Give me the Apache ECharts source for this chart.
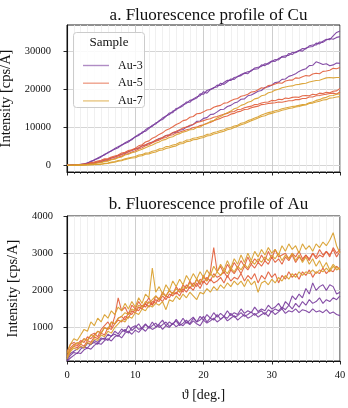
<!DOCTYPE html>
<html><head><meta charset="utf-8">
<script src="https://cdn.jsdelivr.net/npm/echarts@6/dist/echarts.min.js"></script>
<style>html,body{margin:0;padding:0;background:#fff}#c{width:348px;height:408px}</style>
</head><body><div id="c"></div>
<script>
const theta=[0,0.5,1,1.5,2,2.5,3,3.5,4,4.5,5,5.5,6,6.5,7,7.5,8,8.5,9,9.5,10,10.5,11,11.5,12,12.5,13,13.5,14,14.5,15,15.5,16,16.5,17,17.5,18,18.5,19,19.5,20,20.5,21,21.5,22,22.5,23,23.5,24,24.5,25,25.5,26,26.5,27,27.5,28,28.5,29,29.5,30,30.5,31,31.5,32,32.5,33,33.5,34,34.5,35,35.5,36,36.5,37,37.5,38,38.5,39,39.5,40];
const samples=['Au-3','Au-5','Au-7'];
const cuTicks=[0,10000,20000,30000];
const auTicks=[1000,2000,3000,4000];
const xTicks=[0,10,20,30,40];

// a. Cu fluorescence
const cuAu3a=[0,60,110,140,250,330,650,900,1500,1750,2200,2900,3200,3900,4200,4600,5400,5700,6100,6900,7400,7800,8700,8900,9600,10500,10800,11700,12000,12800,13700,13800,14900,15100,15600,16600,16500,17400,17900,18200,19300,18900,19800,20400,20500,21500,21200,21900,22600,22500,23300,23500,24100,24000,24900,25200,25300,26300,26100,26800,27300,27200,28000,28400,28300,29300,29000,29700,30100,29900,30700,31000,31100,32000,31800,32500,33000,32900,33900,34800,35200];
const cuAu3b=[0,30,80,180,200,420,560,1100,1300,1900,2400,2700,3400,3700,4400,4900,5200,5900,6400,6700,7500,8100,8400,9300,9900,10200,11100,11500,12400,12900,13300,14200,14500,15300,15900,16200,17000,17200,17600,18700,18600,19600,19900,20200,21000,20900,21700,22300,22200,23000,23200,23800,24200,24500,24700,25500,25700,25900,26600,26500,27200,27700,27600,28500,28700,28800,29600,29500,30000,30600,30500,31300,31500,31500,32300,32200,32800,33200,33000,33500,33700];
const cuAu3c=[0,20,50,90,150,200,310,450,600,850,1000,1350,1500,1900,2200,2500,2900,3100,3600,3900,4300,4500,5100,5300,5800,6100,6500,7000,7200,7800,7900,8500,8700,9200,9400,10000,10300,10700,11500,11600,12300,12500,13300,13400,14000,14600,14700,15400,15700,16300,16600,17300,17400,18200,18400,18900,19400,19600,20400,20600,21000,21700,21800,22500,22600,23300,23600,24000,24600,25000,25300,26100,26200,27100,26800,26400,26600,26100,26300,26800,26700];
const cuAu5a=[0,40,90,160,230,330,420,700,850,1150,1350,1700,1800,2200,2450,2700,3200,3400,3900,4100,4500,5100,5400,6100,6400,7100,7500,8100,8500,9200,9600,10100,10700,11100,11700,11900,12600,12800,13500,13600,14000,14500,14600,15200,15500,15700,16300,16400,16900,17300,17500,18100,18300,18600,19200,19300,19800,20300,20200,20900,21000,21300,21600,21500,22100,22300,22300,22900,22800,23200,23500,23400,23900,24100,24000,24600,24700,24900,25400,25300,25600];
const cuAu5b=[0,30,70,130,180,260,320,550,700,950,1100,1500,1600,2000,2200,2600,2800,3300,3500,4000,4300,4600,5100,5400,5800,6000,6600,6900,7300,7800,8000,8600,8900,9300,9800,10000,10500,10700,11200,11400,11700,12000,12200,12600,12800,13100,13400,13600,14000,14100,14600,14700,15100,15300,15500,15900,16000,16300,16500,16600,17000,16900,17300,17200,17600,17500,17800,17900,17800,18200,18300,18200,18600,18500,18900,18800,19100,19000,19400,19500,20100];
const cuAu5c=[0,20,50,80,120,150,220,380,480,700,820,1150,1300,1600,1800,2200,2400,2900,3100,3500,3800,4300,4600,5100,5400,5900,6300,6600,7100,7300,7800,8000,8500,8700,9000,9300,9500,9900,10000,10400,10600,11000,11200,11700,12000,12300,12700,12900,13400,13600,14000,14200,14600,14700,15100,15300,15500,15900,16000,16200,16300,16400,16600,16500,16700,16900,16900,17200,17200,17500,17500,17900,17900,18200,18300,18500,18600,18800,18900,18700,19200];
const cuAu7a=[0,20,40,80,110,160,200,330,420,600,700,1000,1100,1450,1600,2000,2200,2700,2900,3300,3500,3900,4200,4600,5000,5300,5800,6100,6600,6800,7300,7500,8000,8300,8700,8900,9300,9400,9900,10000,10600,10900,11500,11700,12400,12800,13300,13800,14200,14800,15100,15700,16000,16500,16800,17400,17600,18200,18400,19000,19200,19700,19900,20300,20500,20700,20800,21100,21200,21400,21500,21800,22000,22200,22300,22600,22900,23000,22900,23000,23000];
const cuAu7b=[0,10,20,40,60,80,100,150,200,230,300,500,620,850,1000,1250,1400,1700,1900,2100,2300,2700,2800,3200,3300,3700,3900,4300,4400,4900,5000,5300,5500,6000,6100,6600,6700,7100,7200,7500,7700,8100,8200,8600,8800,9100,9300,9700,9900,10300,10500,11000,11200,11700,12000,12400,12700,13200,13500,13800,14000,14300,14500,14800,15000,15200,15400,15500,15700,15900,16000,16400,16600,17000,17200,17600,17800,18200,18300,18600,18700];
const cuAu7c=[0,10,20,30,50,70,90,130,180,220,280,420,500,700,800,1050,1200,1500,1700,1900,2000,2400,2500,2900,3000,3300,3500,3900,4000,4400,4600,4900,5100,5600,5700,6200,6300,6700,6800,7100,7300,7700,7800,8200,8400,8700,8900,9300,9500,9900,10200,10600,10900,11300,11700,12000,12400,12800,13000,13400,13600,13900,14100,14400,14600,14900,15000,15300,15400,15700,15800,16200,16300,16600,16800,17100,17200,17600,17700,17900,18000];

// b. Au fluorescence
const auAu3a=[180,300,360,420,480,450,580,540,650,600,720,680,820,760,900,830,960,880,1050,920,1000,1100,960,1080,1000,1150,1020,1100,1200,1050,1150,1080,1220,1100,1250,1120,1200,1280,1150,1300,1200,1350,1250,1400,1280,1380,1300,1450,1320,1400,1350,1500,1380,1450,1400,1550,1430,1500,1450,1600,1500,1550,1650,1500,1700,1600,1850,1750,1900,1800,2050,1900,2200,2000,2100,2150,2000,2150,2100,1900,1950];
const auAu3b=[130,250,330,300,420,480,450,560,600,550,680,720,650,780,820,760,880,950,850,1000,1050,950,1000,1100,980,1050,1120,1000,1080,1150,1030,1100,1180,1050,1120,1200,1100,1250,1150,1200,1300,1150,1250,1200,1350,1220,1300,1250,1380,1280,1320,1400,1300,1350,1420,1330,1400,1450,1350,1480,1420,1500,1450,1550,1480,1600,1500,1650,1550,1700,1600,1750,1650,1700,1800,1650,1750,1700,1800,1750,1850];
const auAu3c=[100,180,250,320,300,400,450,420,520,580,550,650,700,640,750,800,720,850,900,820,930,870,980,900,1020,950,1000,1080,950,1050,1000,1120,1020,1100,1050,1150,1080,1180,1100,1050,1200,1120,1180,1250,1150,1220,1300,1180,1250,1320,1200,1280,1350,1250,1300,1380,1280,1350,1400,1300,1450,1350,1420,1500,1380,1450,1420,1500,1400,1480,1450,1400,1500,1420,1450,1400,1480,1380,1420,1350,1320];
const auAu5a=[250,450,550,500,600,700,650,800,850,750,950,1050,1150,1000,1300,1800,1450,1550,1350,1600,1500,1700,1550,1650,1800,1600,1850,1750,1950,1850,2000,1900,2100,1950,2150,2050,2250,2100,2300,2150,2400,2250,2500,3150,2500,2650,2450,2700,2550,2750,2600,2800,2650,2900,2700,2850,2750,2950,2800,3050,2850,3100,2900,2950,3000,2850,3000,2900,3050,2850,2950,2800,3000,2900,3100,2950,3050,2900,3150,3000,3100];
const auAu5b=[350,550,600,550,650,600,750,700,800,900,850,1000,950,1150,1100,1250,1300,1200,1400,1350,1500,1450,1600,1550,1700,1600,1750,1700,1850,1750,1900,1850,1950,1850,2050,1950,2100,2000,2200,2050,2250,2150,2300,2200,2250,2350,2200,2400,2250,2350,2300,2450,2250,2400,2300,2450,2200,2400,2300,2500,2350,2450,2200,2400,2300,2500,2350,2450,2300,2500,2400,2550,2350,2500,2450,2600,2450,2550,2500,2650,2550];
const auAu5c=[200,400,500,450,550,500,650,600,750,700,850,800,1000,950,1100,1200,1150,1300,1250,1450,1400,1550,1500,1650,1550,1700,1650,1800,1700,1850,1800,1950,1900,2050,1950,2150,2050,2200,2100,2300,2200,2350,2250,2450,2350,2400,2500,2350,2550,2450,2600,2450,2650,2550,2700,2600,2750,2650,2800,2700,2900,2750,2850,2700,2900,2800,2950,2750,2900,2800,2950,2850,3000,2850,2950,2900,3050,2950,3100,2900,3050];
const auAu7a=[300,550,700,650,800,950,900,1150,1050,1250,1150,1350,1250,1450,1350,1550,1450,1650,1500,1700,1550,1800,1650,1900,1800,2600,1950,2100,1900,2150,2000,2250,2100,2300,2150,2400,2250,2450,2300,2500,2350,2550,2400,2650,2500,2700,2550,2800,2600,2850,2700,2950,2750,3000,2800,3050,2900,3100,2950,3150,3000,3100,2950,3200,3050,3250,3100,3200,3000,3250,3100,3200,3050,3250,3150,3300,3200,3350,3550,3200,3000];
const auAu7b=[200,400,500,600,550,700,650,800,750,900,850,1000,950,1150,1100,1250,1300,1400,1350,1500,1450,1600,1550,1700,1650,1750,1850,1750,1900,1850,2000,1900,2050,1950,2100,2050,2200,2100,2300,2200,2350,2250,2450,2350,2500,2400,2550,2450,2600,2500,2650,2550,2700,2600,2800,2700,2850,2750,2900,2800,2950,2850,3000,2800,2950,2850,3000,2800,2950,2750,2900,2700,2850,2650,2800,2600,2750,2550,2700,2600,2600];
const auAu7c=[150,350,450,400,500,450,600,550,700,650,800,750,900,850,1000,1100,1200,1150,1300,1250,1400,1350,1500,1450,1600,1550,1650,1600,1700,1480,1750,1700,1850,1750,1900,1800,1950,1850,1750,1950,1900,2050,1950,2100,2000,2150,2050,2200,2100,2250,2150,2250,2100,2300,2150,2250,1950,2200,2250,2150,2300,2200,2350,2250,2400,2300,2450,2350,2500,2400,2500,2450,2550,2450,2550,2500,2600,2500,2650,2550,2600];

const colors=['#7b3f9e','#e2603d','#d9a02e'];
const FONT="'Liberation Serif','DejaVu Serif',serif";
const LINE_ICON='path://M0,0L0,0M0,5.3L26,5.3L26,6.7L0,6.7ZM26,12L26,12';

function pts(v){return theta.map((t,i)=>[t,v[i]]);}
const cuSets=[[cuAu3a,cuAu3b,cuAu3c],[cuAu5a,cuAu5b,cuAu5c],[cuAu7a,cuAu7b,cuAu7c]];
const auSets=[[auAu3a,auAu3b,auAu3c],[auAu5a,auAu5b,auAu5c],[auAu7a,auAu7b,auAu7c]];
const series=[];
[[cuSets,0],[auSets,1]].forEach(([sets,gi])=>{
  sets.forEach((group,si)=>{
    group.forEach(v=>{
      series.push({type:'line',name:samples[si],xAxisIndex:gi,yAxisIndex:gi,data:pts(v),
        symbol:'none',lineStyle:{width:1.1,color:colors[si],opacity:0.92},itemStyle:{color:colors[si]},
        emphasis:{disabled:true},animation:false,silent:true,z:2});
    });
  });
});

function xAxis(gi,showLabels){
  return {type:'value',gridIndex:gi,min:0,max:40,interval:10,
    axisLine:{show:true,onZero:false,lineStyle:{color:'#111',width:1.1}},
    axisTick:{show:true,length:3.5,lineStyle:{color:'#111',width:0.9}},
    minorTick:{show:true,splitNumber:10,length:2,lineStyle:{color:'#111',width:0.7}},
    splitLine:{show:true,lineStyle:{color:'#c8c8c8',width:0.9}},
    minorSplitLine:{show:true,lineStyle:{color:'#ececec',width:0.8}},
    axisLabel:{show:showLabels,customValues:xTicks,fontFamily:FONT,fontSize:10.5,color:'#111',margin:9,formatter:v=>String(v)},
    name:showLabels?'\u03d1 [deg.]':'',nameLocation:'middle',nameGap:27,
    nameTextStyle:{fontFamily:FONT,fontSize:14,color:'#111'}};
}
function yAxis(gi,min,max,ticks,margin){
  return {type:'value',gridIndex:gi,min:min,max:max,
    axisLine:{show:true,onZero:false,lineStyle:{color:'#111',width:1.1}},
    axisTick:{show:true,length:3.5,customValues:ticks,lineStyle:{color:'#111',width:0.9}},
    splitLine:{show:true,lineStyle:{color:'#d0d0d0',width:0.9}},
    axisLabel:{customValues:ticks,fontFamily:FONT,fontSize:10.5,color:'#111',margin:margin,formatter:v=>String(v)},
    name:'Intensity [cps/A]',nameLocation:'middle',nameGap:46,
    nameTextStyle:{fontFamily:FONT,fontSize:14.5,color:'#111'}};
}

const chart=echarts.init(document.getElementById('c'),null,{renderer:'canvas'});
chart.setOption({
  animation:false,
  backgroundColor:'#fff',
  title:[
    {text:'a. Fluorescence profile of Cu',left:203.5,top:2,textAlign:'center',textStyle:{fontFamily:FONT,fontSize:17,fontWeight:'normal',color:'#111'}},
    {text:'b. Fluorescence profile of Au',left:203.5,top:191,textAlign:'center',textStyle:{fontFamily:FONT,fontSize:17,fontWeight:'normal',color:'#111'}}
  ],
  grid:[
    {left:67,top:25,width:273,height:147,show:true,borderColor:'#222',borderWidth:1,backgroundColor:'#fff',outerBoundsMode:'none',containLabel:false},
    {left:67,top:216,width:273,height:145,show:true,borderColor:'#222',borderWidth:1,backgroundColor:'#fff',outerBoundsMode:'none',containLabel:false}
  ],
  xAxis:[xAxis(0,false),xAxis(1,true)],
  yAxis:[yAxis(0,-1750,36750,cuTicks,16),yAxis(1,100,4000,auTicks,14)],
  legend:{data:samples.map(n=>({name:n,icon:LINE_ICON})),orient:'vertical',left:78,top:54.5,itemWidth:26,itemHeight:12,itemGap:5.7,
    itemStyle:{opacity:0.6},
    textStyle:{fontFamily:FONT,fontSize:12,color:'#111',lineHeight:12,padding:[0,0,0,4]},
    selectedMode:false,z:10},
  graphic:[
    {type:'rect',shape:{x:73.5,y:32.5,width:71,height:75,r:3},style:{fill:'rgba(255,255,255,0.85)',stroke:'#cccccc',lineWidth:1},z:8},
    {type:'text',x:109,y:42.5,style:{text:'Sample',font:'13px '+FONT,fill:'#111',textAlign:'center',textVerticalAlign:'middle'},z:9}
  ],
  series:series
});
</script></body></html>
